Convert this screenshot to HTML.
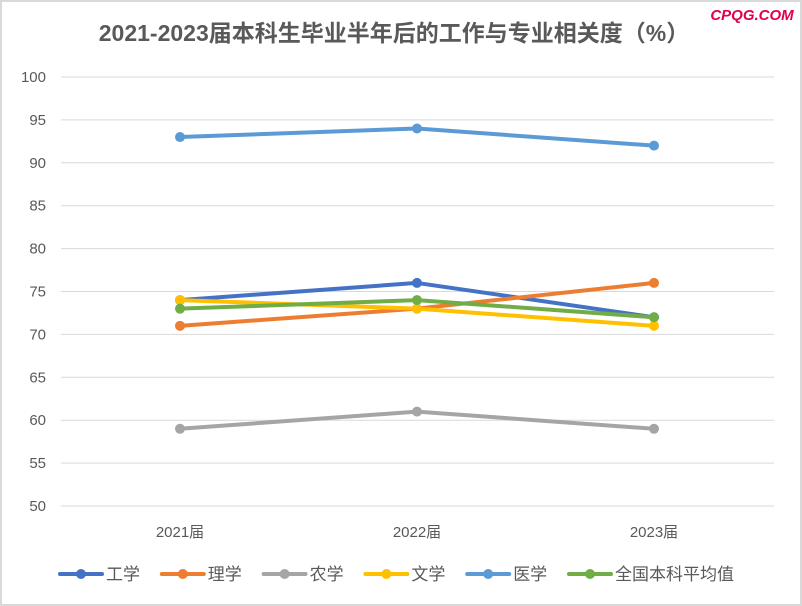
<!DOCTYPE html>
<html><head><meta charset="utf-8"><style>
html,body{margin:0;padding:0;background:#fff;}
svg{display:block;font-family:"Liberation Sans","Noto Sans CJK SC",sans-serif;}
</style></head><body>
<svg id="chart" width="802" height="606">
<rect x="1" y="1" width="800" height="604" fill="#fff" stroke="#d9d9d9" stroke-width="2"/>
<text x="394" y="41" text-anchor="middle" font-size="23" font-weight="bold" fill="#595959">2021-2023届本科生毕业半年后的工作与专业相关度（%）</text>
<text x="752" y="20" text-anchor="middle" font-size="15" font-weight="bold" font-style="italic" fill="#e0004d">CPQG.COM</text>
<g id="grid"></g><g id="series"></g><g id="legend"></g>
</svg>
<script>
const categories=["2021届","2022届","2023届"];
const seriesNames=["工学","理学","农学","文学","医学","全国本科平均值"];
const seriesColors=["#4472c4","#ed7d31","#a5a5a5","#ffc000","#5b9bd5","#70ad47"];
const gongxue=[74,76,72];
const lixue=[71,73,76];
const nongxue=[59,61,59];
const wenxue=[74,73,71];
const yixue=[93,94,92];
const quanguo=[73,74,72];
const yTicks=[50,55,60,65,70,75,80,85,90,95,100];
const allSeries=[gongxue,lixue,nongxue,wenxue,yixue,quanguo];
const NS="http://www.w3.org/2000/svg";
function y(v){return 506-(v-50)*(429/50);}
function x(i){return 180+i*237;}
function mk(tag,attrs,parent,txt){const e=document.createElementNS(NS,tag);for(const k in attrs)e.setAttribute(k,attrs[k]);if(txt!==undefined)e.textContent=txt;parent.appendChild(e);return e;}
const grid=document.getElementById('grid');
yTicks.forEach(t=>{
 const l=mk('line',{x1:61,x2:774,y1:y(t),y2:y(t),stroke:'#d9d9d9','stroke-width':1},grid);
 
 
 const tx=mk('text',{x:46,y:y(t)+5,'text-anchor':'end','font-size':15,fill:'#595959'},grid,String(t));
 
 
});
categories.forEach((c,i)=>{
 const tx=mk('text',{x:x(i),y:537,'text-anchor':'middle','font-size':15,fill:'#595959'},grid,c);
 
 
});
const sg=document.getElementById('series');
allSeries.forEach((s,k)=>{
 const g=mk('g',{},sg);
 
 
 const p=mk('polyline',{points:s.map((v,i)=>x(i)+','+y(v)).join(' '),fill:'none',stroke:seriesColors[k],'stroke-width':4,'stroke-linejoin':'round'},g);
 
 
 s.forEach((v,i)=>{
  const c=mk('circle',{cx:x(i),cy:y(v),r:5,fill:seriesColors[k]},g);
  
  
 });
});
const lg=document.getElementById('legend');
seriesNames.forEach((n,k)=>{
 const bx=60+k*101.8;
 const g=mk('g',{},lg);
 
 
 mk('line',{x1:bx,x2:bx+42,y1:574,y2:574,stroke:seriesColors[k],'stroke-width':4,'stroke-linecap':'round'},g);
 mk('circle',{cx:bx+21,cy:574,r:5,fill:seriesColors[k]},g);
 mk('text',{x:bx+46,y:580,'font-size':17,fill:'#595959'},g,n);
});
</script>
</body></html>
